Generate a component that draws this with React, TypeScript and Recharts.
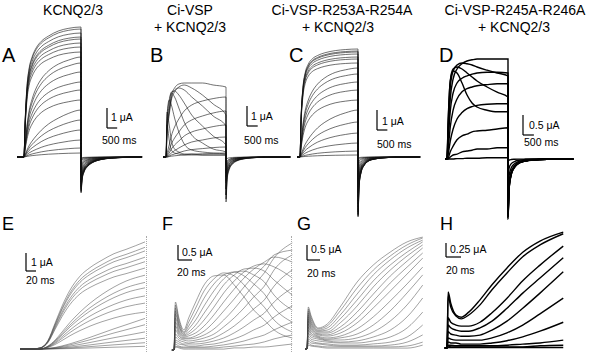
import React from "react";
import { LineChart, Line, XAxis, YAxis, ReferenceLine } from "recharts";

// ---------- time bases (ms) ----------
const PULSE_T = [0, 50, 150, 250, 400, 600, 850, 1200, 1700, 2200, 2800];
const D_PULSE_T = [0, 50, 150, 280, 460, 690, 920, 1150, 1380, 1840, 2300, 2800];
const TAIL_T = [1, 50, 150, 300, 500, 800, 1200, 1800, 3000]; // after pulse end
const PULSE_END = 2800;

// ---------- A: KCNQ2/3 (uA at end of pulse, normalised time course) ----------
const A_LEVELS = [6.5, 6.4, 6.2, 6.0, 5.9, 5.7, 5.5, 5.25, 5.0, 4.7, 4.25, 3.75, 3.35, 2.85, 2.35, 1.85, 1.35, 0.85, 0.45, 0.2];
const A_SHAPE_IDX = [0, 0, 0, 0, 0, 0, 0, 0, 1, 1, 1, 1, 1, 1, 2, 2, 2, 2, 2, 2];
const A_SHAPES = [
  [0, 0.25, 0.55, 0.68, 0.77, 0.84, 0.89, 0.93, 0.97, 0.99, 1],
  [0, 0.12, 0.32, 0.46, 0.58, 0.69, 0.78, 0.86, 0.93, 0.97, 1],
  [0, 0.05, 0.15, 0.24, 0.34, 0.45, 0.57, 0.7, 0.83, 0.93, 1],
];
const A_TAILS = [-1.8, -1.75, -1.7, -1.65, -1.6, -1.55, -1.5, -1.45, -1.35, -1.25, -1.15, -1.0, -0.9, -0.75, -0.6, -0.5, -0.35, -0.22, -0.12, -0.05];
const A_TAIL_SHAPE = [1, 0.65, 0.42, 0.28, 0.18, 0.1, 0.05, 0.02, 0];

// ---------- B: Ci-VSP + KCNQ2/3 (uA) ----------
const B_TRACES = [
  [0, 1.5, 2.35, 3.1, 3.45, 3.65, 3.7, 3.7, 3.7, 3.6, 3.5],
  [0, 1.1, 2.1, 2.85, 3.25, 3.5, 3.6, 3.45, 3.1, 2.65, 2.1],
  [0, 1.35, 2.25, 2.95, 3.35, 3.45, 3.35, 3.0, 2.55, 2.05, 1.55],
  [0, 1.6, 2.6, 3.25, 3.3, 3.1, 2.7, 2.1, 1.55, 1.05, 0.6],
  [0, 1.85, 2.85, 3.2, 3.0, 2.45, 1.75, 1.1, 0.7, 0.4, 0.25],
  [0, 2.1, 2.85, 2.6, 1.95, 1.25, 0.65, 0.35, 0.25, 0.2, 0.15],
  [0, 2.25, 1.6, 0.85, 0.4, 0.25, 0.15, 0.15, 0.1, 0.1, 0.1],
  [0, 1.6, 0.85, 0.35, 0.2, 0.15, 0.1, 0.1, 0.1, 0.1, 0.1],
  [0, 0.2, 0.6, 1.05, 1.5, 1.9, 2.3, 2.6, 2.8, 2.92, 3.0],
  [0, 0.1, 0.35, 0.65, 0.95, 1.25, 1.6, 1.85, 2.05, 2.2, 2.3],
  [0, 0.05, 0.2, 0.4, 0.6, 0.8, 1.05, 1.25, 1.4, 1.52, 1.6],
  [0, 0.02, 0.1, 0.2, 0.32, 0.45, 0.6, 0.75, 0.85, 0.95, 1.0],
  [0, 0, 0.05, 0.1, 0.15, 0.22, 0.3, 0.37, 0.42, 0.47, 0.5],
  [0, 0, 0.02, 0.04, 0.06, 0.08, 0.11, 0.14, 0.16, 0.18, 0.2],
];
const B_TAILS = [-2.25, -2.1, -1.9, -1.6, -1.3, -1.0, -0.7, -0.5, -1.9, -1.6, -1.2, -0.8, -0.4, -0.15];
const B_TAIL_SHAPE = [1, 0.5, 0.28, 0.16, 0.09, 0.045, 0.02, 0.005, 0];

// ---------- C: Ci-VSP-R253A-R254A + KCNQ2/3 ----------
const C_LEVELS = [5.4, 5.3, 5.25, 5.15, 5.0, 4.9, 4.7, 4.45, 4.15, 3.75, 3.35, 2.85, 2.35, 1.75, 1.2, 0.7, 0.3, 0.1];
const C_SHAPE_IDX = [0, 0, 0, 0, 0, 0, 0, 1, 1, 1, 1, 1, 2, 2, 2, 2, 2, 2];
const C_SHAPES = [
  [0, 0.35, 0.66, 0.78, 0.86, 0.91, 0.94, 0.965, 0.985, 0.995, 1],
  [0, 0.15, 0.38, 0.52, 0.64, 0.74, 0.82, 0.89, 0.95, 0.98, 1],
  [0, 0.06, 0.17, 0.27, 0.38, 0.5, 0.62, 0.74, 0.86, 0.94, 1],
];
const C_TAILS = [-3.0, -2.95, -2.9, -2.85, -2.75, -2.65, -2.5, -2.35, -2.2, -2.0, -1.8, -1.5, -1.25, -0.95, -0.65, -0.4, -0.2, -0.06];
const C_TAIL_SHAPE = [1, 0.5, 0.26, 0.14, 0.07, 0.035, 0.015, 0.005, 0];

// ---------- D: Ci-VSP-R245A-R246A + KCNQ2/3 ----------
const D_TRACES = [
  [0, 0.5, 1.5, 2.0, 2.25, 2.38, 2.45, 2.48, 2.5, 2.5, 2.5, 2.5],
  [0, 0.7, 1.8, 2.2, 2.35, 2.4, 2.38, 2.35, 2.3, 2.22, 2.15, 2.08],
  [0, 0.85, 1.95, 2.25, 2.3, 2.25, 2.15, 2.05, 1.95, 1.8, 1.67, 1.55],
  [0, 0.9, 1.95, 2.2, 2.15, 1.9, 1.6, 1.4, 1.3, 1.22, 1.18, 1.18],
  [0, 0.42, 1.2, 1.65, 1.9, 2.02, 2.08, 2.12, 2.15, 2.17, 2.17, 2.15],
  [0, 0.22, 0.8, 1.22, 1.5, 1.68, 1.76, 1.8, 1.83, 1.86, 1.88, 1.88],
  [0, 0.1, 0.45, 0.75, 1.0, 1.16, 1.26, 1.31, 1.34, 1.37, 1.38, 1.38],
  [0, 0.02, 0.18, 0.32, 0.48, 0.58, 0.62, 0.68, 0.7, 0.72, 0.75, 0.78],
  [0, 0, 0.05, 0.1, 0.12, 0.18, 0.2, 0.22, 0.25, 0.25, 0.28, 0.28],
  [0, 0, 0, 0, 0.01, 0.01, 0.02, 0.02, 0.02, 0.03, 0.03, 0.03],
];
const D_TAILS = [-1.5, -1.45, -1.4, -1.3, -1.45, -1.35, -1.2, -0.85, -0.45, -0.05];
const D_TAIL_SHAPE = [1, 0.5, 0.26, 0.14, 0.07, 0.035, 0.015, 0.005, 0];

// ---------- E: KCNQ2/3 onset (ms, uA) ----------
const E_T = [0, 16, 32, 48, 62, 76, 92, 112, 132, 156, 180, 204, 242];
const E_LEVELS = [5.95, 5.65, 5.45, 5.1, 4.85, 4.5, 4.1, 3.7, 3.4, 2.95, 2.55, 2.05, 1.7, 1.35, 0.95, 0.6, 0.35, 0.15];
const E_SHAPE_IDX = [0, 0, 0, 0, 0, 0, 1, 1, 1, 1, 1, 1, 2, 2, 2, 2, 2, 2];
const E_SHAPES = [
  [0, 0, 0.01, 0.08, 0.24, 0.4, 0.55, 0.68, 0.76, 0.83, 0.89, 0.93, 1],
  [0, 0, 0, 0.04, 0.12, 0.23, 0.36, 0.5, 0.62, 0.74, 0.84, 0.92, 1],
  [0, 0, 0, 0.02, 0.05, 0.1, 0.17, 0.27, 0.38, 0.52, 0.66, 0.79, 1],
];

// ---------- F: Ci-VSP onset ----------
const F_T = [0, 2, 7, 14, 21, 31, 43, 57, 71, 86, 100, 114, 129, 143, 169];
const F_TRACES = [
  [0, 1.6, 1.07, 0.67, 1.07, 1.6, 2.17, 2.47, 2.5, 2.17, 1.77, 1.33, 1.0, 0.67, 0.4],
  [0, 1.5, 1.0, 0.6, 0.93, 1.4, 1.97, 2.37, 2.57, 2.47, 2.17, 1.8, 1.43, 1.0, 0.6],
  [0, 1.4, 0.9, 0.57, 0.8, 1.2, 1.73, 2.2, 2.5, 2.6, 2.47, 2.2, 1.87, 1.4, 0.93],
  [0, 1.3, 0.83, 0.53, 0.7, 1.0, 1.47, 1.97, 2.37, 2.6, 2.63, 2.5, 2.27, 1.83, 1.33],
  [0, 1.2, 0.77, 0.5, 0.6, 0.83, 1.23, 1.7, 2.17, 2.5, 2.7, 2.73, 2.63, 2.33, 1.83],
  [0, 1.07, 0.67, 0.47, 0.53, 0.7, 1.0, 1.43, 1.9, 2.3, 2.6, 2.8, 2.87, 2.77, 2.4],
  [0, 0.93, 0.6, 0.43, 0.47, 0.57, 0.8, 1.17, 1.6, 2.03, 2.4, 2.7, 2.93, 3.1, 2.93],
  [0, 0.8, 0.53, 0.4, 0.4, 0.47, 0.63, 0.93, 1.3, 1.7, 2.1, 2.47, 2.8, 3.17, 3.33],
  [0, 0.67, 0.47, 0.37, 0.37, 0.4, 0.5, 0.7, 1.0, 1.37, 1.77, 2.17, 2.57, 3.07, 3.57],
  [0, 0.53, 0.4, 0.33, 0.3, 0.33, 0.4, 0.53, 0.77, 1.07, 1.4, 1.77, 2.13, 2.67, 3.17],
  [0, 0.43, 0.33, 0.27, 0.23, 0.27, 0.3, 0.4, 0.57, 0.8, 1.07, 1.37, 1.67, 2.13, 2.67],
  [0, 0.33, 0.27, 0.2, 0.2, 0.2, 0.23, 0.3, 0.4, 0.57, 0.77, 1.0, 1.23, 1.6, 2.07],
  [0, 0.27, 0.2, 0.17, 0.13, 0.13, 0.17, 0.2, 0.27, 0.37, 0.5, 0.67, 0.83, 1.1, 1.47],
  [0, 0.2, 0.13, 0.1, 0.1, 0.1, 0.1, 0.13, 0.17, 0.23, 0.3, 0.4, 0.5, 0.67, 0.93],
  [0, 0.13, 0.1, 0.07, 0.07, 0.07, 0.07, 0.07, 0.1, 0.13, 0.17, 0.2, 0.27, 0.37, 0.5],
  [0, 0.1, 0.07, 0.03, 0.03, 0.03, 0.03, 0.03, 0.03, 0.07, 0.07, 0.1, 0.1, 0.13, 0.2],
];

// ---------- G: Ci-VSP-R253A-R254A onset ----------
const G_T = [0, 2, 6, 17, 31, 51, 77, 102, 128, 154, 178];
const G_TRACES = [
  [0, 1.4, 1.13, 0.7, 0.83, 1.4, 2.23, 2.8, 3.23, 3.57, 3.73],
  [0, 1.33, 1.07, 0.67, 0.77, 1.27, 2.03, 2.63, 3.1, 3.47, 3.7],
  [0, 1.27, 1.0, 0.63, 0.7, 1.13, 1.83, 2.47, 2.97, 3.37, 3.63],
  [0, 1.2, 0.93, 0.6, 0.63, 1.0, 1.63, 2.27, 2.8, 3.23, 3.57],
  [0, 1.13, 0.87, 0.57, 0.57, 0.87, 1.43, 2.07, 2.63, 3.1, 3.47],
  [0, 1.07, 0.8, 0.53, 0.53, 0.73, 1.23, 1.83, 2.43, 2.93, 3.37],
  [0, 1.0, 0.73, 0.5, 0.47, 0.63, 1.03, 1.6, 2.2, 2.73, 3.2],
  [0, 0.93, 0.67, 0.47, 0.43, 0.53, 0.87, 1.37, 1.93, 2.5, 3.03],
  [0, 0.83, 0.6, 0.43, 0.37, 0.43, 0.67, 1.07, 1.6, 2.17, 2.73],
  [0, 0.73, 0.53, 0.4, 0.33, 0.37, 0.5, 0.8, 1.27, 1.87, 2.47],
  [0, 0.63, 0.47, 0.37, 0.3, 0.3, 0.37, 0.57, 0.93, 1.47, 2.13],
  [0, 0.53, 0.4, 0.33, 0.27, 0.23, 0.27, 0.4, 0.63, 1.07, 1.7],
  [0, 0.43, 0.33, 0.27, 0.23, 0.2, 0.2, 0.27, 0.4, 0.7, 1.23],
  [0, 0.33, 0.27, 0.2, 0.17, 0.13, 0.13, 0.17, 0.23, 0.4, 0.8],
  [0, 0.27, 0.2, 0.17, 0.13, 0.1, 0.1, 0.1, 0.13, 0.23, 0.47],
  [0, 0.2, 0.13, 0.1, 0.07, 0.07, 0.07, 0.07, 0.07, 0.1, 0.23],
  [0, 0.13, 0.1, 0.07, 0.03, 0.03, 0.03, 0.03, 0.03, 0.03, 0.13],
];

// ---------- H: Ci-VSP-R245A-R246A onset ----------
const H_T = [0, 1.5, 5, 12, 19, 29, 44, 60, 80, 101, 124, 155];
const H_TRACES = [
  [0, 1.0, 0.8, 0.59, 0.55, 0.64, 0.86, 1.13, 1.43, 1.71, 1.91, 2.07],
  [0, 0.93, 0.73, 0.57, 0.52, 0.59, 0.77, 1.04, 1.34, 1.63, 1.84, 2.04],
  [0, 0.54, 0.46, 0.41, 0.39, 0.39, 0.46, 0.63, 0.89, 1.2, 1.48, 1.82],
  [0, 0.41, 0.36, 0.32, 0.3, 0.3, 0.36, 0.48, 0.71, 0.98, 1.25, 1.61],
  [0, 0.29, 0.25, 0.23, 0.21, 0.21, 0.23, 0.32, 0.48, 0.71, 0.98, 1.36],
  [0, 0.18, 0.16, 0.14, 0.14, 0.14, 0.14, 0.18, 0.27, 0.41, 0.61, 0.89],
  [0, 0.11, 0.09, 0.09, 0.07, 0.07, 0.07, 0.09, 0.13, 0.2, 0.3, 0.46],
  [0, 0.05, 0.05, 0.04, 0.04, 0.04, 0.04, 0.04, 0.05, 0.07, 0.09, 0.14],
  [0, 0.04, 0.02, 0.02, 0.02, 0.02, 0.02, 0.02, 0.02, 0.02, 0.04, 0.05],
  [0, 0.01, 0.01, 0.01, 0.01, 0.01, 0.01, 0.01, 0.01, 0.01, 0.01, 0.01],
];

// ---------- building tables ----------
type Row = Record<string, number>;

const buildRows = (times: number[], traces: number[][]): Row[] =>
  times.map((t, i) => {
    const row: Row = { t };
    traces.forEach((tr, k) => {
      row[`s${k}`] = tr[i];
    });
    return row;
  });

const longTimes = (pre: number, pulse: number[]) => [pre, ...pulse, ...TAIL_T.map((t) => PULSE_END + t)];
const withTail = (pulse: number[], peak: number, shape: number[]) => [0, ...pulse, ...shape.map((v) => v * peak)];
const scaled = (levels: number[], idx: number[], shapes: number[][]) =>
  levels.map((lv, k) => shapes[idx[k]].map((v) => v * lv));

const A_ROWS = buildRows(
  longTimes(-330, PULSE_T),
  scaled(A_LEVELS, A_SHAPE_IDX, A_SHAPES).map((p, k) => withTail(p, A_TAILS[k], A_TAIL_SHAPE))
);
const B_ROWS = buildRows(
  longTimes(-140, PULSE_T),
  B_TRACES.map((p, k) => withTail(p, B_TAILS[k], B_TAIL_SHAPE))
);
const C_ROWS = buildRows(
  longTimes(-140, PULSE_T),
  scaled(C_LEVELS, C_SHAPE_IDX, C_SHAPES).map((p, k) => withTail(p, C_TAILS[k], C_TAIL_SHAPE))
);
const D_ROWS = buildRows(
  longTimes(-90, D_PULSE_T),
  D_TRACES.map((p, k) => withTail(p, D_TAILS[k], D_TAIL_SHAPE))
);
const E_ROWS = buildRows([-8, ...E_T], scaled(E_LEVELS, E_SHAPE_IDX, E_SHAPES).map((p) => [0, ...p]));
const F_ROWS = buildRows([-3, ...F_T], F_TRACES.map((p) => [0, ...p]));
const G_ROWS = buildRows([-3, ...G_T], G_TRACES.map((p) => [0, ...p]));
const H_ROWS = buildRows([-3, ...H_T], H_TRACES.map((p) => [0, ...p]));

// ---------- layout ----------
type Geo = {
  left: number; top: number; width: number; height: number;
  x0: number; y0: number; pxPerMs: number; pxPerUA: number;
  bar: { x: number; y: number; ms: number; ua: number };
};

const GEO: Record<string, Geo> = {
  A: { left: 15, top: 20, width: 135, height: 180, x0: 24, y0: 157, pxPerMs: 57 / 2800, pxPerUA: 20, bar: { x: 107, y: 128, ms: 500, ua: 1 } },
  B: { left: 150, top: 60, width: 145, height: 150, x0: 166, y0: 157, pxPerMs: 60 / 2800, pxPerUA: 20, bar: { x: 247, y: 126, ms: 500, ua: 1 } },
  C: { left: 292, top: 40, width: 148, height: 185, x0: 300, y0: 157, pxPerMs: 58 / 2800, pxPerUA: 20, bar: { x: 377, y: 130, ms: 500, ua: 1 } },
  D: { left: 440, top: 50, width: 152, height: 175, x0: 447, y0: 159, pxPerMs: 61 / 2800, pxPerUA: 40, bar: { x: 523, y: 135, ms: 500, ua: 0.5 } },
  E: { left: 15, top: 230, width: 135, height: 123, x0: 24, y0: 349, pxPerMs: 0.5, pxPerUA: 18, bar: { x: 26, y: 271, ms: 20, ua: 1 } },
  F: { left: 150, top: 230, width: 145, height: 123, x0: 174, y0: 350, pxPerMs: 0.7, pxPerUA: 30, bar: { x: 178, y: 260, ms: 20, ua: 0.5 } },
  G: { left: 295, top: 230, width: 145, height: 123, x0: 307, y0: 349, pxPerMs: 0.65, pxPerUA: 30, bar: { x: 307, y: 260, ms: 20, ua: 0.5 } },
  H: { left: 440, top: 230, width: 152, height: 123, x0: 447, y0: 348, pxPerMs: 0.75, pxPerUA: 56, bar: { x: 446, y: 257, ms: 20, ua: 0.25 } },
};

const FONT = "'Liberation Sans', Arial, Helvetica, sans-serif";

const Trace = ({ g, rows, stroke, width }: { g: Geo; rows: Row[]; stroke: string; width: number }) => {
  const keys = Object.keys(rows[0]).filter((k) => k !== "t");
  const xd = [(g.left - g.x0) / g.pxPerMs, (g.left + g.width - g.x0) / g.pxPerMs];
  const yd = [-(g.top + g.height - g.y0) / g.pxPerUA, (g.y0 - g.top) / g.pxPerUA];
  const bt = (g.bar.x - g.x0) / g.pxPerMs;
  const bi = (g.y0 - g.bar.y) / g.pxPerUA;
  return (
    <div style={{ position: "absolute", left: g.left, top: g.top }}>
      <LineChart width={g.width} height={g.height} data={rows} margin={{ top: 0, right: 0, bottom: 0, left: 0 }}>
        <XAxis dataKey="t" type="number" domain={xd} hide allowDataOverflow />
        <YAxis type="number" domain={yd} hide allowDataOverflow />
        {keys.map((k) => (
          <Line key={k} dataKey={k} type="monotone" dot={false} stroke={stroke} strokeWidth={width} isAnimationActive={false} />
        ))}
        <ReferenceLine segment={[{ x: bt, y: bi }, { x: bt, y: bi + g.bar.ua }]} stroke="#000" strokeWidth={1.2} />
        <ReferenceLine segment={[{ x: bt, y: bi }, { x: bt + g.bar.ms, y: bi }]} stroke="#000" strokeWidth={1.2} />
      </LineChart>
    </div>
  );
};

type Txt = { text: string; x: number; y: number; size: number; center?: boolean };

const TEXTS: Txt[] = [
  { text: "KCNQ2/3", x: 73, y: 10, size: 14, center: true },
  { text: "Ci-VSP", x: 190, y: 10, size: 14, center: true },
  { text: "+ KCNQ2/3", x: 190, y: 27, size: 14, center: true },
  { text: "Ci-VSP-R253A-R254A", x: 342, y: 10, size: 14, center: true },
  { text: "+ KCNQ2/3", x: 338, y: 27, size: 14, center: true },
  { text: "Ci-VSP-R245A-R246A", x: 515, y: 10, size: 14, center: true },
  { text: "+ KCNQ2/3", x: 514, y: 27, size: 14, center: true },
  { text: "A", x: 2, y: 55, size: 20 },
  { text: "B", x: 150, y: 55, size: 20 },
  { text: "C", x: 289, y: 55, size: 20 },
  { text: "D", x: 439, y: 55, size: 20 },
  { text: "E", x: 2, y: 224, size: 18 },
  { text: "F", x: 162, y: 224, size: 18 },
  { text: "G", x: 297, y: 224, size: 18 },
  { text: "H", x: 440, y: 224, size: 18 },
  { text: "1 μA", x: 111, y: 117, size: 10.5 },
  { text: "500 ms", x: 102, y: 140, size: 10.5 },
  { text: "1 μA", x: 251, y: 116, size: 10.5 },
  { text: "500 ms", x: 244, y: 140, size: 10.5 },
  { text: "1 μA", x: 382, y: 121, size: 10.5 },
  { text: "500 ms", x: 377, y: 144, size: 10.5 },
  { text: "0.5 μA", x: 529, y: 125, size: 10.5 },
  { text: "500 ms", x: 524, y: 142, size: 10.5 },
  { text: "1 μA", x: 31, y: 262, size: 10.5 },
  { text: "20 ms", x: 26, y: 280, size: 10.5 },
  { text: "0.5 μA", x: 182, y: 252, size: 10.5 },
  { text: "20 ms", x: 177, y: 272, size: 10.5 },
  { text: "0.5 μA", x: 311, y: 249, size: 10.5 },
  { text: "20 ms", x: 307, y: 273, size: 10.5 },
  { text: "0.25 μA", x: 450, y: 249, size: 10.5 },
  { text: "20 ms", x: 446, y: 270, size: 10.5 },
];

const Label = ({ t }: { t: Txt }) => (
  <div
    style={{
      position: "absolute",
      left: t.x,
      top: t.y - 0.49 * t.size,
      fontSize: t.size,
      lineHeight: `${t.size}px`,
      fontFamily: FONT,
      color: "#000",
      whiteSpace: "nowrap",
      transform: t.center ? "translateX(-50%)" : undefined,
    }}
  >
    {t.text}
  </div>
);

export default function App() {
  return (
    <div style={{ position: "absolute", left: 0, top: 0, width: 592, height: 353, background: "#fff", overflow: "hidden" }}>
      <Trace g={GEO.A} rows={A_ROWS} stroke="#111" width={0.6} />
      <Trace g={GEO.B} rows={B_ROWS} stroke="#111" width={0.6} />
      <Trace g={GEO.C} rows={C_ROWS} stroke="#111" width={0.6} />
      <Trace g={GEO.D} rows={D_ROWS} stroke="#000" width={1.4} />
      <Trace g={GEO.E} rows={E_ROWS} stroke="#444" width={0.5} />
      <Trace g={GEO.F} rows={F_ROWS} stroke="#444" width={0.5} />
      <Trace g={GEO.G} rows={G_ROWS} stroke="#444" width={0.5} />
      <Trace g={GEO.H} rows={H_ROWS} stroke="#000" width={1.4} />
      <div style={{ position: "absolute", left: 146, top: 236, height: 116, borderLeft: "1px dotted #aaa" }} />
      <div style={{ position: "absolute", left: 291, top: 236, height: 116, borderLeft: "1px dotted #aaa" }} />
      {TEXTS.map((t, i) => (
        <Label key={i} t={t} />
      ))}
    </div>
  );
}
